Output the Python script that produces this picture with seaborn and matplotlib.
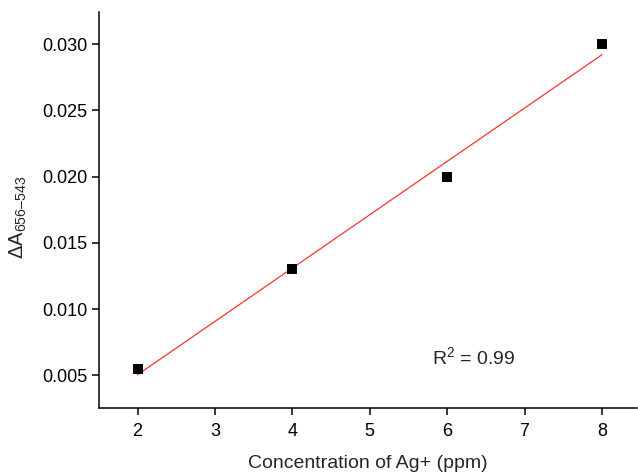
import numpy as np
import pandas as pd
import matplotlib
matplotlib.use("Agg")
import matplotlib.pyplot as plt
import seaborn as sns

conc = [2, 4, 6, 8]
delta_a = [0.0055, 0.013, 0.020, 0.030]
x_ticks = [2, 3, 4, 5, 6, 7, 8]
y_ticks = [0.005, 0.010, 0.015, 0.020, 0.025, 0.030]
r2_text = r"R$^{2}$ = 0.99"

sns.set_style("ticks")
plt.rcParams['font.family'] = ['Liberation Sans', 'DejaVu Sans']
plt.rcParams['mathtext.fontset'] = 'custom'
plt.rcParams['mathtext.rm'] = 'Liberation Sans'
plt.rcParams['mathtext.it'] = 'Liberation Sans'

df = pd.DataFrame({"x": conc, "y": delta_a})
slope, intercept = np.polyfit(conc, delta_a, 1)
fit = pd.DataFrame({"x": [conc[0], conc[-1]]})
fit["y"] = slope * fit["x"] + intercept

fig = plt.figure(figsize=(6.38, 4.74), dpi=100)
ax = fig.add_axes([0.155, 0.139, 0.843, 0.836])

sns.lineplot(data=fit, x="x", y="y", ax=ax, color="#ff3030", lw=0.9)
sns.scatterplot(data=df, x="x", y="y", ax=ax, marker="s", s=50, color="black",
                edgecolor="black", linewidth=0, zorder=3)

ax.set_xlim(1.5, 8.45)
ax.set_ylim(0.00253, 0.03244)
ax.set_xticks(x_ticks)
ax.set_yticks(y_ticks)
ax.set_yticklabels([f"{v:.3f}" for v in y_ticks])
ax.tick_params(direction="out", length=5, width=1.1, labelsize=13, colors="black")
ax.tick_params(axis="x", pad=6)
ax.tick_params(axis="y", pad=3.5)

for s in ["top", "right"]:
    ax.spines[s].set_visible(False)
for s in ["left", "bottom"]:
    ax.spines[s].set_linewidth(1.1)
    ax.spines[s].set_color("black")

ax.set_xlabel("Concentration of Ag+ (ppm)", fontsize=14)
ax.set_ylabel("$\\Delta{\\rm A}_{\\rm 656\u2013543}$", fontsize=14.5)
ax.xaxis.set_label_coords(0.5, -0.118)
ax.yaxis.set_label_coords(-0.13, 0.482)

ax.text(5.8, 0.0064, r2_text, fontsize=14, ha="left", va="center")

fig.savefig("out.png", dpi=100)
